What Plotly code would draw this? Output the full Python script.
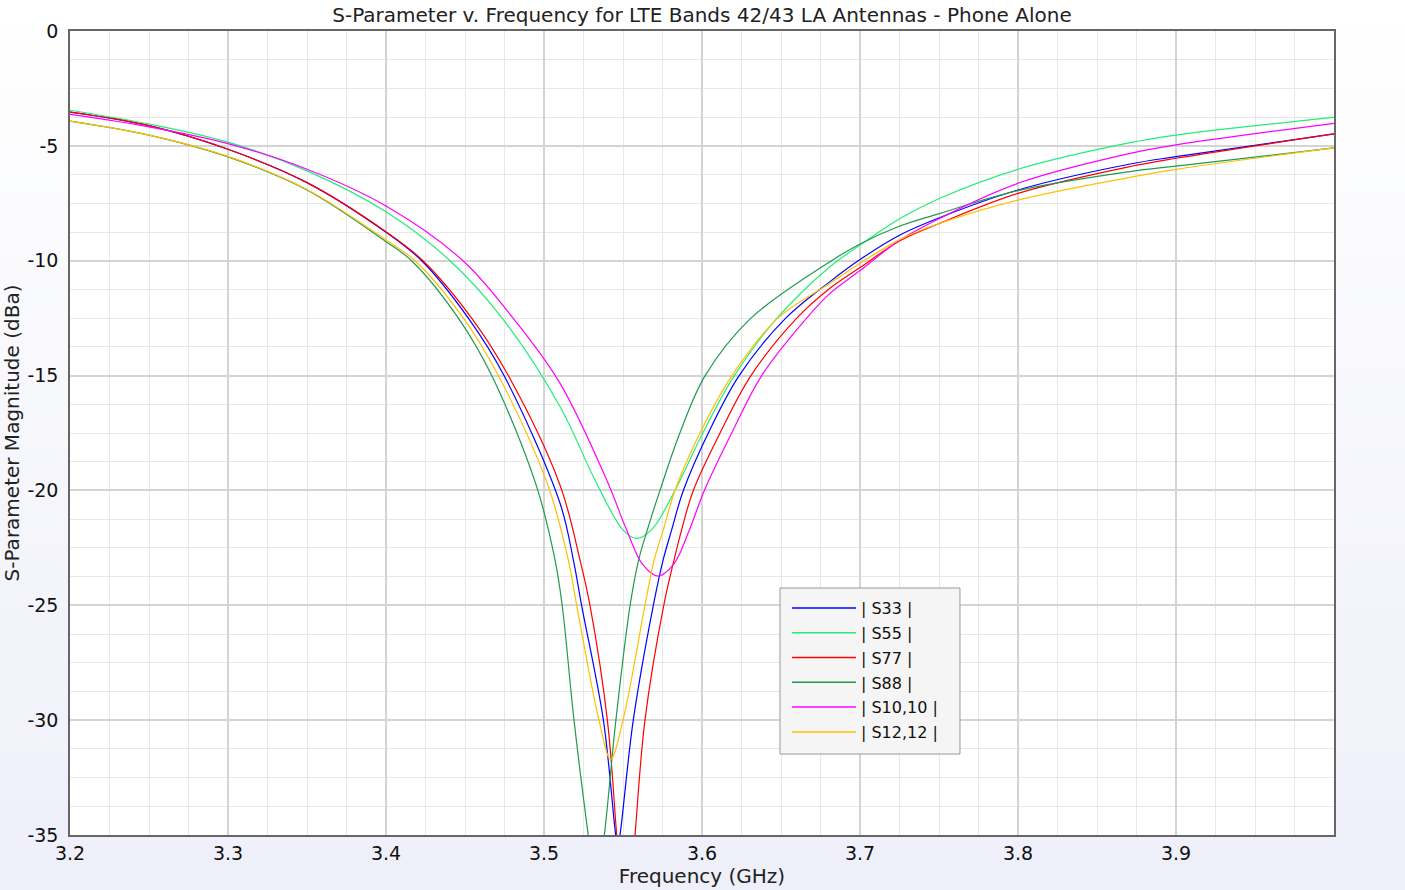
import plotly.graph_objects as go

# ---- data ----
names = ["| S33 |", "| S55 |", "| S77 |", "| S88 |", "| S10,10 |", "| S12,12 |"]
colors = ["#0000ff", "#22ee77", "#ff0000", "#1f9a52", "#ff00ff", "#ffc000"]

f_s33 = [3.2, 3.25, 3.3, 3.35, 3.4, 3.4226, 3.4521, 3.4747, 3.5101, 3.5186, 3.5238, 3.5376, 3.5454, 3.5467, 3.5481, 3.5565, 3.5692, 3.5755, 3.5808, 3.5882, 3.604, 3.6235, 3.653, 3.681, 3.7, 3.7253, 3.7506, 3.8, 3.871, 3.9, 4.0]
s33 = [-3.53, -4.12, -5.15, -6.6, -8.76, -10.0, -12.5, -15.0, -20.55, -23.03, -25.0, -30.0, -35.0, -35.5, -35.0, -30.0, -25.0, -23.0, -21.72, -20.0, -17.5, -15.0, -12.5, -10.91, -9.95, -8.88, -8.12, -6.92, -5.79, -5.47, -4.48]

f_s55 = [3.2, 3.25, 3.3, 3.35, 3.4, 3.4405, 3.4735, 3.5101, 3.5323, 3.55, 3.5585, 3.568, 3.5829, 3.6005, 3.6205, 3.6475, 3.681, 3.7, 3.7253, 3.7506, 3.8, 3.871, 3.9, 4.0]
s55 = [-3.45, -4.05, -4.84, -6.09, -7.87, -10.0, -12.5, -16.35, -19.55, -21.72, -22.09, -21.72, -20.0, -17.5, -15.0, -12.5, -10.26, -9.32, -8.16, -7.28, -6.02, -4.86, -4.53, -3.76]

f_s77 = [3.2, 3.25, 3.3, 3.35, 3.4, 3.4234, 3.4542, 3.4774, 3.5101, 3.5228, 3.5291, 3.5401, 3.546, 3.5518, 3.5576, 3.5639, 3.5758, 3.5824, 3.5871, 3.5945, 3.6114, 3.631, 3.66, 3.681, 3.7, 3.7253, 3.7506, 3.8, 3.871, 3.9, 4.0]
s77 = [-3.53, -4.12, -5.15, -6.6, -8.74, -10.0, -12.5, -15.0, -19.76, -23.03, -25.0, -30.0, -35.0, -40.0, -35.0, -30.0, -25.0, -23.0, -21.72, -20.0, -17.5, -15.0, -12.5, -11.2, -10.3, -9.13, -8.37, -7.07, -5.90, -5.54, -4.48]

f_s88 = [3.2, 3.25, 3.3, 3.35, 3.4, 3.4162, 3.4458, 3.4669, 3.495, 3.507, 3.5115, 3.519, 3.528, 3.5331, 3.5382, 3.5455, 3.5545, 3.560, 3.5654, 3.5734, 3.586, 3.602, 3.631, 3.681, 3.7, 3.7253, 3.7506, 3.8, 3.871, 3.9, 4.0]
s88 = [-3.92, -4.53, -5.48, -6.92, -9.17, -10.0, -12.5, -15.0, -19.76, -23.03, -25.0, -30.0, -35.0, -37.5, -35.0, -30.0, -25.0, -23.0, -21.72, -20.0, -17.5, -15.0, -12.5, -10.04, -9.27, -8.49, -7.94, -6.95, -6.12, -5.88, -5.09]

f_s1010 = [3.2, 3.25, 3.3, 3.35, 3.4, 3.4487, 3.4804, 3.51, 3.5397, 3.5523, 3.5622, 3.5722, 3.5822, 3.592, 3.6015, 3.6188, 3.6378, 3.6662, 3.681, 3.7, 3.7253, 3.7506, 3.8, 3.871, 3.9, 4.0]
s1010 = [-3.63, -4.17, -4.90, -6.02, -7.62, -10.0, -12.5, -15.32, -19.55, -21.72, -23.2, -23.73, -23.2, -21.72, -20.0, -17.5, -15.0, -12.5, -11.42, -10.43, -9.1, -8.15, -6.63, -5.33, -4.96, -4.02]

f_s1212 = [3.2, 3.25, 3.3, 3.35, 3.4, 3.4184, 3.449, 3.4711, 3.5024, 3.5154, 3.5207, 3.5348, 3.5422, 3.5500, 3.5639, 3.5698, 3.5755, 3.5829, 3.5987, 3.619, 3.648, 3.681, 3.7, 3.7253, 3.7506, 3.8, 3.871, 3.9, 4.0]
s1212 = [-3.92, -4.53, -5.46, -6.90, -9.1, -10.0, -12.5, -15.0, -19.76, -23.03, -25.0, -30.0, -31.7, -30.0, -25.0, -23.0, -21.72, -20.0, -17.5, -15.0, -12.5, -10.98, -10.11, -9.07, -8.37, -7.36, -6.37, -6.02, -5.09]

x_ticks = [3.2, 3.3, 3.4, 3.5, 3.6, 3.7, 3.8, 3.9]
x_tick_text = ["3.2", "3.3", "3.4", "3.5", "3.6", "3.7", "3.8", "3.9"]
y_ticks = [0, -5, -10, -15, -20, -25, -30, -35]
y_tick_text = ["0", "-5", "-10", "-15", "-20", "-25", "-30", "-35"]

series = [(f_s33, s33), (f_s55, s55), (f_s77, s77), (f_s88, s88), (f_s1010, s1010), (f_s1212, s1212)]

FONT = "DejaVu Sans"
fig = go.Figure()
for i, ((fx, fy), name, col) in enumerate(zip(series, names, colors)):
    fig.add_trace(go.Scatter(x=fx, y=fy, mode="lines", name=name, legendgroup="g%d" % i,
                             showlegend=False,
                             line=dict(color=col, width=1.2, shape="spline", smoothing=1.0)))
# legend entries
for i, (name, col) in enumerate(zip(names, colors)):
    fig.add_trace(go.Scatter(x=[None], y=[None], mode="lines", name=name, legendgroup="g%d" % i,
                             showlegend=True, line=dict(color=col, width=1.5)))

# background gradient (outside plot area)
shapes = []
n = 60
top = (255, 255, 255)
bot = (238, 239, 249)
y_top, y_bot = 1.0386, -0.0684
for i in range(n):
    t = (i + 0.5) / n
    c = tuple(round(top[k] + (bot[k] - top[k]) * t) for k in range(3))
    y0 = y_top + (y_bot - y_top) * i / n
    y1 = y_top + (y_bot - y_top) * (i + 1) / n
    shapes.append(dict(type="rect", xref="paper", yref="paper", x0=-0.06, x1=1.06,
                       y0=y1, y1=y0 + 0.001, fillcolor="rgb(%d,%d,%d)" % c,
                       line=dict(width=0), layer="below"))
shapes.append(dict(type="rect", xref="x domain", yref="y domain", x0=0, x1=1, y0=0, y1=1,
                   fillcolor="white", line=dict(width=0), layer="below"))
# legend box
shapes.append(dict(type="rect", xref="paper", yref="paper", x0=0.5617, x1=0.7041, y0=0.1007, y1=0.3072,
                   fillcolor="#f5f5f5", line=dict(width=1, color="#999999"), layer="above"))

fig.update_layout(
    width=1405, height=890,
    margin=dict(l=70, r=71, t=31, b=55, autoexpand=False),
    paper_bgcolor="white", plot_bgcolor="white",
    shapes=shapes,
    font=dict(family=FONT, color="#222", size=16),
    title=dict(text="S-Parameter v. Frequency for LTE Bands 42/43 LA Antennas - Phone Alone",
               x=0.5, xref="paper", xanchor="center", y=0.983, yanchor="middle",
               font=dict(family=FONT, size=20, color="#222")),
    showlegend=True,
    legend=dict(x=0.5672, y=0.3035, xanchor="left", yanchor="top",
                bgcolor="rgba(0,0,0,0)", borderwidth=0,
                font=dict(family=FONT, size=16, color="#111"),
                itemwidth=64, tracegroupgap=1),
)
fig.update_xaxes(range=[3.2, 4.0], tickvals=x_ticks, ticktext=x_tick_text, automargin=False,
                 showgrid=True, gridcolor="#d4d4d4", gridwidth=2,
                 minor=dict(dtick=0.025, tick0=3.2, showgrid=True, gridcolor="#e8e8e8", gridwidth=1),
                 showline=True, linecolor="#666666", linewidth=1.5, mirror=True,
                 ticks="", zeroline=False,
                 tickfont=dict(family=FONT, size=19, color="#111"),
                 title=dict(text="Frequency (GHz)", standoff=4,
                            font=dict(family=FONT, size=20, color="#222")))
fig.update_yaxes(range=[-35, 0], tickvals=y_ticks, ticktext=y_tick_text, automargin=False,
                 showgrid=True, gridcolor="#d4d4d4", gridwidth=2,
                 minor=dict(dtick=1.25, tick0=0, showgrid=True, gridcolor="#e8e8e8", gridwidth=1),
                 showline=True, linecolor="#666666", linewidth=1.5, mirror=True,
                 ticks="", zeroline=False, ticklabelstandoff=6,
                 tickfont=dict(family=FONT, size=19, color="#111"),
                 title=dict(text="S-Parameter Magnitude (dBa)", standoff=4,
                            font=dict(family=FONT, size=20, color="#222")))

fig.write_html("out.html", config={"displayModeBar": False},
               post_script="document.body.style.margin='0';document.body.style.overflow='hidden';")
